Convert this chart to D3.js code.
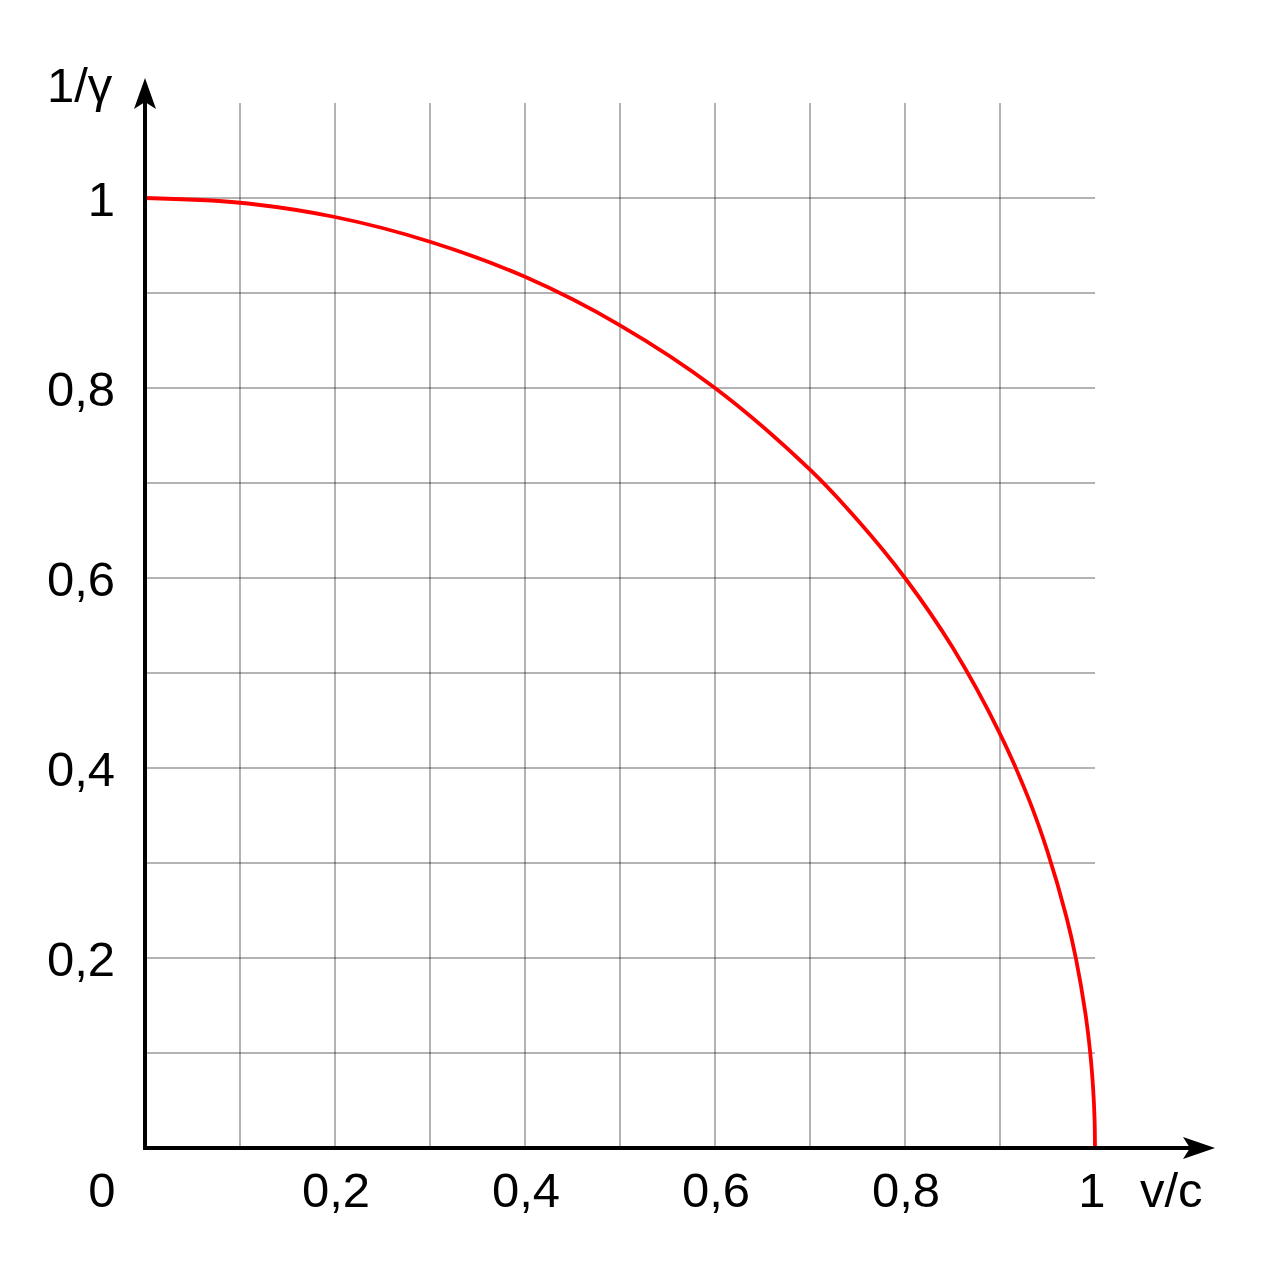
<!DOCTYPE html>
<html lang="en">
<head>
<meta charset="UTF-8">
<title>1/gamma vs v/c</title>
<script src="https://cdn.jsdelivr.net/npm/d3@7"></script>
<style>
	body { margin: 0; background: #fff; }
	text { font-family: "Liberation Sans", Arial, sans-serif; font-size: 49px; fill: #000; }
</style>
</head>
<body>
<script>
// values: v/c and 1/gamma
var speed = [0, 0.1, 0.2, 0.3, 0.4, 0.5, 0.6, 0.7, 0.75, 0.8, 0.85, 0.9, 0.93, 0.95, 0.97, 0.98, 0.99, 0.995, 0.998, 0.9995, 1];
var invGamma = [1, 0.995, 0.98, 0.954, 0.917, 0.866, 0.8, 0.714, 0.661, 0.6, 0.527, 0.436, 0.368, 0.312, 0.243, 0.199, 0.141, 0.1, 0.063, 0.032, 0];
var xTicks = [0.2, 0.4, 0.6, 0.8, 1];
var xTickLabels = ["0,2", "0,4", "0,6", "0,8", "1"];
var yTicks = [0.2, 0.4, 0.6, 0.8, 1];
var yTickLabels = ["0,2", "0,4", "0,6", "0,8", "1"];
var vGrid = [0.1, 0.2, 0.3, 0.4, 0.5, 0.6, 0.7, 0.8, 0.9];
var hGrid = [0.1, 0.2, 0.3, 0.4, 0.5, 0.6, 0.7, 0.8, 0.9, 1];

var svg = d3.select('body').append('svg')
	.attr('width', 1280)
	.attr('height', 1280);

var x = d3.scaleLinear().domain([0, 1]).range([145, 1095]);
var y = d3.scaleLinear().domain([0, 1]).range([1148, 198]);

// grid
svg.append('g').selectAll('line')
	.data(vGrid)
	.enter().append('line')
	.attr('x1', function(d) { return x(d); })
	.attr('x2', function(d) { return x(d); })
	.attr('y1', y(1.1))
	.attr('y2', y(0))
	.attr('stroke', '#000')
	.attr('stroke-width', 0.6);

svg.append('g').selectAll('line')
	.data(hGrid)
	.enter().append('line')
	.attr('y1', function(d) { return y(d); })
	.attr('y2', function(d) { return y(d); })
	.attr('x1', x(0))
	.attr('x2', x(1))
	.attr('stroke', '#000')
	.attr('stroke-width', 0.6);

// curve
var pts = speed.map(function(v, i) { return [v, invGamma[i]]; });
svg.append('path')
	.datum(pts)
	.attr('fill', 'none')
	.attr('stroke', '#ff0000')
	.attr('stroke-width', 3.8)
	.attr('d', d3.line()
		.x(function(d) { return x(d[0]); })
		.y(function(d) { return y(d[1]); })
		.curve(d3.curveCatmullRom.alpha(0.5)));

// axes
svg.append('line')
	.attr('x1', x(0) - 2).attr('y1', y(0))
	.attr('x2', 1190).attr('y2', y(0))
	.attr('stroke', '#000').attr('stroke-width', 4);
svg.append('line')
	.attr('x1', x(0)).attr('y1', y(0) + 2)
	.attr('x2', x(0)).attr('y2', 100)
	.attr('stroke', '#000').attr('stroke-width', 4);

svg.append('path')
	.attr('d', 'M1215,' + y(0) + ' L1183,1137 L1190,' + y(0) + ' L1183,1159 Z')
	.attr('fill', '#000');
svg.append('path')
	.attr('d', 'M' + x(0) + ',78 L134,109 L' + x(0) + ',102 L156,109 Z')
	.attr('fill', '#000');

// tick labels
svg.append('g').selectAll('text')
	.data(xTicks)
	.enter().append('text')
	.attr('x', function(d) { return x(d) + (d === 1 ? -3 : 1); })
	.attr('y', 1207)
	.attr('text-anchor', 'middle')
	.text(function(d, i) { return xTickLabels[i]; });

svg.append('g').selectAll('text')
	.data(yTicks)
	.enter().append('text')
	.attr('x', 115)
	.attr('y', function(d) { return y(d) + 18; })
	.attr('text-anchor', 'end')
	.text(function(d, i) { return yTickLabels[i]; });

svg.append('text').attr('x', 102).attr('y', 1207).attr('text-anchor', 'middle').text('0');
svg.append('text').attr('x', 1140).attr('y', 1207).text('v/c');
svg.append('text').attr('x', 47).attr('y', 102).text('1/γ');
</script>
</body>
</html>
